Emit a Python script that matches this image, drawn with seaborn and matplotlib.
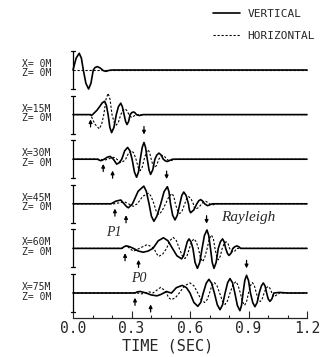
import matplotlib
matplotlib.use("Agg")
import matplotlib.pyplot as plt
import pandas as pd
import seaborn as sns

sns.set_style("white")
plt.rcParams["font.family"] = ["DejaVu Sans Mono"]

# station labels, top to bottom
x_labels = ["X= 0M", "X=15M", "X=30M", "X=45M", "X=60M", "X=75M"]
z_label = "Z= 0M"
tick_values = [0.0, 0.3, 0.6, 0.9, 1.2]
tick_labels = ["0.0", "0.3", "0.6", "0.9", "1.2"]

# seismograms: (time in s, amplitude in scale-bar units)
vert_0 = [(0.0, 0), (0.016, 0.62), (0.032, 0.88), (0.043, 0.62), (0.053, 0), (0.066, -0.7),
          (0.08, -1.0), (0.092, -0.7), (0.104, 0), (0.113, 0.13), (0.125, 0.18), (0.14, 0.1),
          (0.155, -0.03), (0.168, -0.07), (0.185, -0.02), (0.2, 0), (1.2, 0)]
horz_0 = [(0.0, 0), (1.2, 0)]

vert_15 = [(0.0, 0), (0.09, 0), (0.095, -0.05), (0.1, 0), (0.123, 0.23), (0.138, 0.44), (0.15, 0.62),
           (0.162, 0.7), (0.171, 0.5), (0.18, 0), (0.189, -0.67), (0.198, -0.95), (0.21, -0.67),
           (0.222, 0), (0.233, 0.42), (0.245, 0.6), (0.253, 0.42), (0.262, 0), (0.27, -0.37),
           (0.277, -0.52), (0.285, -0.37), (0.293, 0), (0.301, 0.1), (0.31, 0.14), (0.318, 0.1),
           (0.325, 0), (0.34, -0.05), (0.36, 0), (1.2, 0)]
horz_15 = [(0.0, 0), (0.09, 0), (0.112, -0.5), (0.135, -0.75), (0.147, -0.5), (0.158, 0), (0.169, 0.8),
           (0.18, 1.12), (0.19, 0.8), (0.2, 0), (0.211, -0.4), (0.222, -0.55), (0.233, -0.4),
           (0.245, 0), (0.256, 0.22), (0.268, 0.3), (0.277, 0.2), (0.287, 0), (0.3, -0.15),
           (0.315, -0.06), (0.33, 0), (1.2, 0)]

vert_30 = [(0.0, 0), (0.125, 0), (0.142, -0.08), (0.16, 0), (0.175, 0.1), (0.19, 0.15), (0.207, 0),
           (0.224, -0.26), (0.238, -0.18), (0.25, 0), (0.265, 0.44), (0.28, 0.62), (0.292, 0.44),
           (0.303, 0), (0.315, -0.67), (0.326, -0.95), (0.336, -0.67), (0.345, 0), (0.355, 0.62),
           (0.364, 0.88), (0.372, 0.62), (0.381, 0), (0.39, -0.57), (0.398, -0.8), (0.409, -0.56),
           (0.42, 0), (0.43, 0.22), (0.441, 0.32), (0.452, 0.22), (0.463, 0), (0.474, -0.09),
           (0.484, -0.12), (0.497, -0.06), (0.51, 0), (1.2, 0)]
horz_30 = [(0.0, 0), (0.13, 0), (0.16, -0.05), (0.18, 0), (0.195, 0.07), (0.21, 0.1), (0.225, 0),
           (0.245, -0.18), (0.26, -0.1), (0.27, 0), (0.285, 0.32), (0.3, 0.45), (0.312, 0.32),
           (0.323, 0), (0.334, -0.42), (0.345, -0.6), (0.355, -0.42), (0.365, 0), (0.375, 0.35),
           (0.385, 0.5), (0.393, 0.35), (0.401, 0), (0.41, -0.32), (0.418, -0.45), (0.429, -0.32),
           (0.44, 0), (0.45, 0.14), (0.46, 0.2), (0.47, 0.14), (0.48, 0), (0.49, -0.06),
           (0.5, -0.08), (0.515, -0.04), (0.53, 0), (1.2, 0)]

vert_45 = [(0.0, 0), (0.195, 0), (0.22, 0.14), (0.245, 0.2), (0.262, 0), (0.275, -0.15), (0.284, -0.21),
           (0.295, -0.1), (0.305, 0), (0.334, 0.66), (0.363, 0.93), (0.376, 0.66), (0.39, 0),
           (0.402, -0.65), (0.415, -0.92), (0.43, -0.65), (0.45, 0), (0.467, 0.64), (0.484, 0.9),
           (0.492, 0.64), (0.5, 0), (0.511, -0.6), (0.523, -0.85), (0.535, -0.6), (0.548, 0),
           (0.558, 0.44), (0.568, 0.62), (0.58, 0.44), (0.592, 0), (0.597, -0.33), (0.603, -0.47),
           (0.619, -0.33), (0.635, 0), (0.645, 0.16), (0.655, 0.22), (0.665, 0.14), (0.675, 0),
           (0.69, -0.1), (0.715, 0), (1.2, 0)]
horz_45 = [(0.0, 0), (0.21, 0), (0.245, 0.07), (0.265, 0.1), (0.285, 0), (0.3, -0.1), (0.31, -0.13),
           (0.32, -0.06), (0.33, 0), (0.358, 0.4), (0.388, 0.56), (0.4, 0.4), (0.415, 0),
           (0.427, -0.4), (0.44, -0.56), (0.455, -0.4), (0.475, 0), (0.492, 0.38), (0.508, 0.54),
           (0.517, 0.38), (0.525, 0), (0.536, -0.36), (0.548, -0.51), (0.56, -0.36), (0.573, 0),
           (0.583, 0.27), (0.593, 0.38), (0.605, 0.27), (0.617, 0), (0.622, -0.2), (0.628, -0.28),
           (0.644, -0.2), (0.66, 0), (0.67, 0.1), (0.68, 0.13), (0.69, 0.08), (0.7, 0),
           (0.715, -0.06), (0.74, 0), (1.2, 0)]

vert_60 = [(0.0, 0), (0.25, 0), (0.262, 0.09), (0.275, 0.13), (0.29, 0.09), (0.31, 0), (0.335, -0.14),
           (0.36, -0.2), (0.385, -0.14), (0.41, 0), (0.437, 0.4), (0.464, 0.56), (0.487, 0.4),
           (0.51, 0), (0.533, -0.39), (0.557, -0.55), (0.567, -0.39), (0.577, 0), (0.586, 0.35),
           (0.595, 0.5), (0.605, 0.35), (0.615, 0), (0.626, -0.74), (0.638, -1.05), (0.65, -0.74),
           (0.662, 0), (0.674, 0.68), (0.687, 0.97), (0.696, 0.68), (0.705, 0), (0.714, -0.74),
           (0.723, -1.05), (0.734, -0.74), (0.745, 0), (0.756, 0.35), (0.767, 0.5), (0.775, 0.35),
           (0.783, 0), (0.792, -0.26), (0.8, -0.37), (0.81, -0.26), (0.82, 0), (0.83, 0.09),
           (0.84, 0.13), (0.85, 0.09), (0.86, 0), (1.2, 0)]
horz_60 = [(0.0, 0), (0.25, 0), (0.265, 0.1), (0.275, 0.15), (0.29, 0), (0.31, -0.15), (0.33, -0.05),
           (0.36, 0.1), (0.38, 0.2), (0.4, 0.1), (0.415, 0), (0.43, -0.3), (0.44, -0.42), (0.46, -0.3),
           (0.48, 0), (0.497, 0.41), (0.514, 0.58), (0.53, 0.41), (0.545, 0), (0.56, -0.38),
           (0.574, -0.53), (0.585, -0.38), (0.597, 0), (0.608, 0.35), (0.62, 0.5), (0.632, 0.35),
           (0.643, 0), (0.654, -0.5), (0.665, -0.7), (0.675, -0.5), (0.688, 0), (0.699, 0.5),
           (0.71, 0.7), (0.72, 0.5), (0.728, 0), (0.737, -0.42), (0.745, -0.6), (0.755, -0.42),
           (0.765, 0), (0.775, 0.25), (0.785, 0.35), (0.795, 0.25), (0.803, 0), (0.812, -0.14),
           (0.82, -0.2), (0.83, -0.14), (0.84, 0), (1.2, 0)]

vert_75 = [(0.0, 0), (0.318, 0), (0.33, 0.06), (0.345, 0.08), (0.36, 0.04), (0.375, 0), (0.4, -0.1),
           (0.43, -0.15), (0.45, -0.08), (0.465, 0), (0.48, 0.08), (0.493, 0.03), (0.505, 0),
           (0.53, 0.28), (0.56, 0.4), (0.582, 0.28), (0.6, 0), (0.62, -0.5), (0.64, -0.7),
           (0.655, -0.5), (0.668, 0), (0.683, 0.51), (0.697, 0.72), (0.711, 0.51), (0.725, 0),
           (0.74, -0.62), (0.754, -0.88), (0.767, -0.62), (0.78, 0), (0.793, 0.54), (0.805, 0.76),
           (0.818, 0.54), (0.83, 0), (0.843, -0.66), (0.856, -0.93), (0.864, -0.66), (0.872, 0),
           (0.881, 0.66), (0.89, 0.93), (0.9, 0.66), (0.91, 0), (0.922, -0.51), (0.933, -0.72),
           (0.944, -0.51), (0.955, 0), (0.966, 0.37), (0.976, 0.53), (0.985, 0.37), (0.993, 0),
           (1.001, -0.31), (1.01, -0.44), (1.02, -0.31), (1.03, 0), (1.06, 0.03), (1.1, 0), (1.2, 0)]
horz_75 = [(0.0, 0), (0.33, 0), (0.35, -0.05), (0.37, 0), (0.39, 0.06), (0.41, 0), (0.43, 0.15),
           (0.45, 0.3), (0.468, 0.15), (0.48, 0), (0.49, -0.25), (0.505, -0.35), (0.525, -0.25),
           (0.545, 0), (0.572, 0.38), (0.6, 0.53), (0.62, 0.38), (0.64, 0), (0.657, -0.35),
           (0.675, -0.5), (0.688, -0.35), (0.7, 0), (0.712, 0.39), (0.725, 0.55), (0.738, 0.39),
           (0.752, 0), (0.766, -0.42), (0.78, -0.6), (0.792, -0.42), (0.805, 0), (0.82, 0.42),
           (0.835, 0.6), (0.846, 0.42), (0.858, 0), (0.869, -0.46), (0.88, -0.65), (0.89, -0.46),
           (0.9, 0), (0.91, 0.39), (0.92, 0.55), (0.93, 0.39), (0.94, 0), (0.95, -0.32),
           (0.96, -0.45), (0.97, -0.32), (0.98, 0), (0.99, 0.25), (1.0, 0.35), (1.01, 0.25),
           (1.02, 0), (1.03, -0.2), (1.045, -0.1), (1.06, 0), (1.2, 0)]

vertical = [vert_0, vert_15, vert_30, vert_45, vert_60, vert_75]
horizontal = [horz_0, horz_15, horz_30, horz_45, horz_60, horz_75]

# arrival marks: (trace, time)
p_marks = [(1, 0.09), (2, 0.155), (2, 0.203), (3, 0.215), (3, 0.272),
           (4, 0.267), (4, 0.336), (5, 0.318), (5, 0.398)]
rayleigh_marks = [(2, 0.364), (3, 0.48), (4, 0.685), (5, 0.89)]

# ---------------
# layout (1 amplitude unit = 19 px, x: 195 px per second)
# ---------------
W, H = 335, 357
PX = 19.0
axis_px = 318
fig = plt.figure(figsize=(W / 100, H / 100), dpi=100)
ax = fig.add_axes([0, (H - axis_px) / H, 1, axis_px / H])
ax.set_xlim(-73 / 195, (W - 73) / 195)
ax.set_ylim(-axis_px / PX, 0)

offsets = [-(70 + 44.6 * i) / PX for i in range(6)]

rows = []
for i in range(6):
    for comp, trace in (("VERTICAL", vertical[i]), ("HORIZONTAL", horizontal[i])):
        for t, a in trace:
            rows.append({"time": t, "amp": a + offsets[i], "comp": comp, "trace": i})
df = pd.DataFrame(rows)

order = ["VERTICAL", "HORIZONTAL"]
sns.lineplot(data=df, x="time", y="amp", hue="comp", style="comp", size="comp",
             hue_order=order, style_order=order, size_order=order,
             palette={"VERTICAL": "black", "HORIZONTAL": "black"},
             dashes={"VERTICAL": "", "HORIZONTAL": (2, 1.6)},
             sizes={"VERTICAL": 1.2, "HORIZONTAL": 0.8},
             units="trace", estimator=None, sort=False, ax=ax)

handles, labels = ax.get_legend_handles_labels()
ax.legend(handles, labels, frameon=False, loc="upper left",
          bbox_to_anchor=(213 / W, 1 - 9 / H), bbox_transform=fig.transFigure,
          borderpad=0, borderaxespad=0, handlelength=2.4, handletextpad=0.7,
          labelspacing=1.1, prop={"family": "DejaVu Sans Mono", "size": 8})

# scale bars and station labels
for i, off in enumerate(offsets):
    ax.plot([0, 0], [off - 1, off + 1], color="black", lw=0.9)
    ax.plot([-0.012, 0.012], [off + 1, off + 1], color="black", lw=0.9)
    ax.plot([-0.012, 0.012], [off - 1, off - 1], color="black", lw=0.9)
    ax.text(-0.2615, off + 6 / PX, x_labels[i], fontsize=7, va="center", ha="left")
    ax.text(-0.2615, off - 3.5 / PX, z_label, fontsize=7, va="center", ha="left")

arrow = dict(arrowstyle="-|>", color="black", lw=0.9, mutation_scale=5, shrinkA=0, shrinkB=0)
for k, (i, t) in enumerate(p_marks):
    depth = 0.25 if k in (0, 1, 3, 5, 7) else 0.6
    ax.annotate("", xy=(t, offsets[i] - depth), xytext=(t, offsets[i] - depth - 0.4), arrowprops=arrow)
for i, t in rayleigh_marks:
    ax.annotate("", xy=(t, offsets[i] + 1.3), xytext=(t, offsets[i] + 1.72), arrowprops=arrow)

serif = {"family": "Liberation Serif", "style": "italic"}
ax.text((248 - 73) / 195, -217 / PX, "Rayleigh", fontsize=11, ha="center", va="center", fontdict=serif)
ax.text((114 - 73) / 195, -232 / PX, "P1", fontsize=10, ha="center", va="center", fontdict=serif)
ax.text((139 - 73) / 195, -279 / PX, "P0", fontsize=10, ha="center", va="center", fontdict=serif)

# time axis
for side in ("top", "right", "left"):
    ax.spines[side].set_visible(False)
ax.spines["bottom"].set_bounds(0, 1.2)
ax.spines["bottom"].set_linewidth(0.9)
ax.set_yticks([])
ax.set_xticks(tick_values)
ax.set_xticklabels(tick_labels, fontsize=10.5)
ax.set_xticks([0.1, 0.2, 0.4, 0.5, 0.7, 0.8, 1.0, 1.1], minor=True)
ax.tick_params(axis="x", which="major", direction="in", length=5, width=0.8, pad=2, bottom=True)
ax.tick_params(axis="x", which="minor", direction="in", length=2.5, width=0.8, bottom=True)
ax.set_xlabel("TIME (SEC)", fontsize=11, labelpad=2)
ax.set_ylabel("")

fig.savefig("out.png", dpi=100, facecolor="white")
